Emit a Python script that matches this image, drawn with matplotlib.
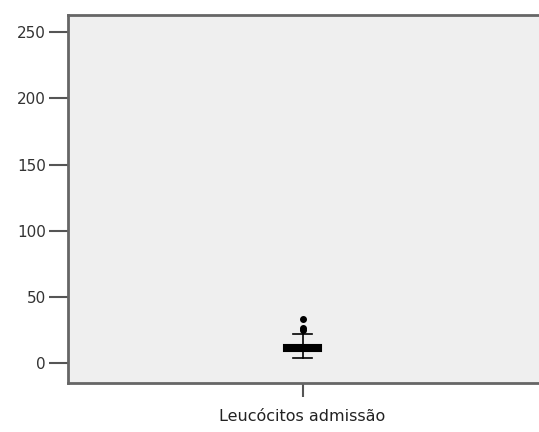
import matplotlib
matplotlib.use('Agg')
import matplotlib.pyplot as plt

# summary stats for the admission leukocyte count
variable = 'Leucócitos admissão'
q1 = 9.0
median = 11.5
q3 = 14.0
whisker_low = 4.0
whisker_high = 22.0
outliers = [25.0, 26.5, 33.5]
yticks = [0, 50, 100, 150, 200, 250]

fig = plt.figure(figsize=(5.39, 4.32), dpi=100)
ax = fig.add_axes([68/539, 49/432, 473/539, 368/432])
ax.set_facecolor('#efefef')

stats = [dict(label=variable, q1=q1, med=median, q3=q3,
              whislo=whisker_low, whishi=whisker_high, fliers=outliers)]
ax.bxp(stats, positions=[1], widths=0.078, patch_artist=True,
       boxprops=dict(facecolor='black', edgecolor='black', linewidth=1.5),
       medianprops=dict(color='black', linewidth=2),
       whiskerprops=dict(color='black', linewidth=1.2),
       capprops=dict(color='black', linewidth=1.2),
       flierprops=dict(marker='o', markerfacecolor='black',
                       markeredgecolor='black', markersize=4))

ax.set_xlim(0.504, 1.504)
ax.set_ylim(-15, 263)
ax.set_yticks(yticks)
ax.set_yticklabels([str(t) for t in yticks])
ax.set_xticks([1])
ax.set_xticklabels([variable])

for sp in ax.spines.values():
    sp.set_color('#666666')
    sp.set_linewidth(2)

ax.tick_params(axis='y', length=14, width=1.5, color='#555555',
               labelsize=11, labelcolor='#333333', pad=2)
ax.tick_params(axis='x', length=10, width=1.5, color='#555555',
               labelsize=11.5, labelcolor='#222222', pad=9)

plt.savefig('out.png', dpi=100)
